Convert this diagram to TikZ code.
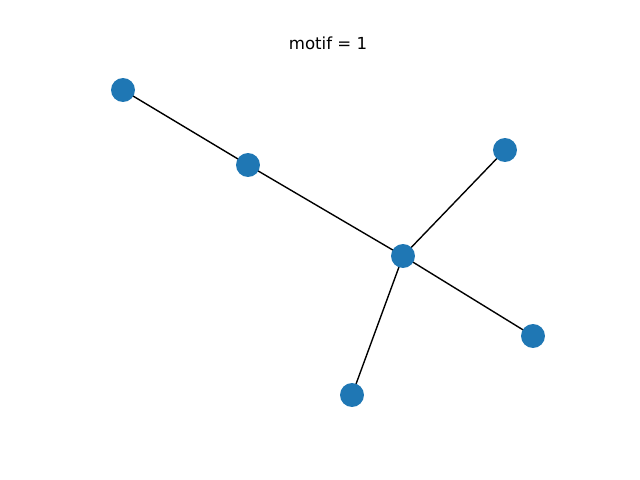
\documentclass[tikz,border=0pt]{standalone}
\usepackage{fontspec}
\setmainfont{DejaVu Sans}
\usetikzlibrary{backgrounds}
\definecolor{tabblue}{HTML}{1F77B4}
\begin{document}
\begin{tikzpicture}[x=0.02cm,y=-0.02cm,
  vertex/.style={circle,fill=tabblue,draw=none,minimum size=0.48cm,inner sep=0pt},
  edge/.style={draw=black,line width=0.79pt}]
\useasboundingbox (0,0) rectangle (640,480);
\node[font=\fontsize{9.45pt}{11pt}\selectfont] (title) at (328,43) {motif = 1};
\node[vertex] (a) at (123,90) {};
\node[vertex] (b) at (248,165) {};
\node[vertex] (c) at (403,256) {};
\node[vertex] (d) at (505,150) {};
\node[vertex] (e) at (533,336) {};
\node[vertex] (f) at (352,395) {};
\begin{scope}[on background layer]
\draw[edge] (a.center) -- (b.center);
\draw[edge] (b.center) -- (c.center);
\draw[edge] (c.center) -- (d.center);
\draw[edge] (c.center) -- (e.center);
\draw[edge] (c.center) -- (f.center);
\end{scope}
\end{tikzpicture}
\end{document}
